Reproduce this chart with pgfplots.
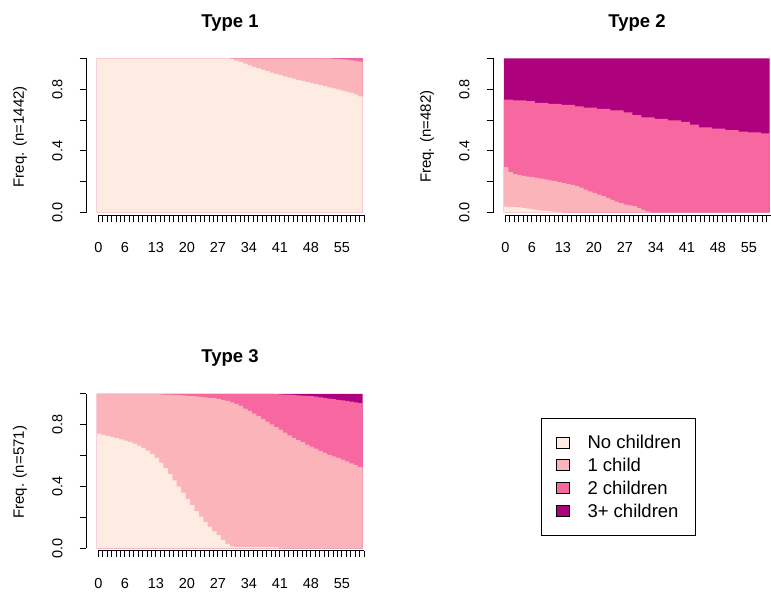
\documentclass[border=0pt]{standalone}
\usepackage{fontspec}
\setmainfont{Liberation Sans}
\usepackage{pgfplots}
\usepackage{pgfplotstable}
\pgfplotsset{compat=1.18}
\definecolor{s1}{HTML}{FEEBE2}
\definecolor{s2}{HTML}{FBB4B9}
\definecolor{s3}{HTML}{F768A1}
\definecolor{s4}{HTML}{AE017E}

% cumulative boundaries: c1=No, c2=No+1, c3=No+1+2, c4=all
\pgfplotstableread{
t c1 c2 c3 c4
0 1 1 1 1
1 1 1 1 1
2 1 1 1 1
3 1 1 1 1
4 1 1 1 1
5 1 1 1 1
6 1 1 1 1
7 1 1 1 1
8 1 1 1 1
9 1 1 1 1
10 1 1 1 1
11 1 1 1 1
12 1 1 1 1
13 1 1 1 1
14 1 1 1 1
15 1 1 1 1
16 1 1 1 1
17 1 1 1 1
18 1 1 1 1
19 1 1 1 1
20 1 1 1 1
21 1 1 1 1
22 1 1 1 1
23 1 1 1 1
24 1 1 1 1
25 1 1 1 1
26 1 1 1 1
27 1 1 1 1
28 1 1 1 1
29 1 1 1 1
30 0.995 1 1 1
31 0.985 1 1 1
32 0.977 1 1 1
33 0.965 1 1 1
34 0.955 1 1 1
35 0.945 1 1 1
36 0.935 1 1 1
37 0.926 1 1 1
38 0.917 1 1 1
39 0.907 1 1 1
40 0.899 1 1 1
41 0.891 1 1 1
42 0.883 1 1 1
43 0.875 1 1 1
44 0.868 1 1 1
45 0.861 1 1 1
46 0.854 1 1 1
47 0.847 1 1 1
48 0.840 1 1 1
49 0.833 1 1 1
50 0.826 1 1 1
51 0.819 1 1 1
52 0.812 1 1 1
53 0.805 0.997 1 1
54 0.798 0.995 1 1
55 0.791 0.993 1 1
56 0.784 0.990 1 1
57 0.776 0.987 1 1
58 0.766 0.983 1 1
59 0.754 0.978 1 1
60 0.754 0.978 1 1
}\tabA

\pgfplotstableread{
t c1 c2 c3 c4
0 0.040 0.295 0.733 1
1 0.038 0.262 0.733 1
2 0.036 0.250 0.728 1
3 0.034 0.243 0.728 1
4 0.030 0.238 0.728 1
5 0.026 0.234 0.722 1
6 0.022 0.230 0.722 1
7 0.018 0.225 0.712 1
8 0.014 0.220 0.712 1
9 0.011 0.215 0.712 1
10 0.008 0.210 0.705 1
11 0.005 0.204 0.705 1
12 0.003 0.198 0.705 1
13 0 0.192 0.698 1
14 0 0.186 0.698 1
15 0 0.180 0.698 1
16 0 0.173 0.688 1
17 0 0.163 0.688 1
18 0 0.150 0.680 1
19 0 0.138 0.680 1
20 0 0.127 0.680 1
21 0 0.117 0.672 1
22 0 0.107 0.672 1
23 0 0.095 0.672 1
24 0 0.083 0.662 1
25 0 0.072 0.662 1
26 0 0.062 0.662 1
27 0 0.053 0.650 1
28 0 0.047 0.650 1
29 0 0.042 0.632 1
30 0 0.030 0.632 1
31 0 0.018 0.618 1
32 0 0.008 0.618 1
33 0 0 0.618 1
34 0 0 0.608 1
35 0 0 0.608 1
36 0 0 0.608 1
37 0 0 0.598 1
38 0 0 0.598 1
39 0 0 0.598 1
40 0 0 0.588 1
41 0 0 0.588 1
42 0 0 0.570 1
43 0 0 0.570 1
44 0 0 0.553 1
45 0 0 0.553 1
46 0 0 0.553 1
47 0 0 0.545 1
48 0 0 0.545 1
49 0 0 0.545 1
50 0 0 0.535 1
51 0 0 0.535 1
52 0 0 0.535 1
53 0 0 0.525 1
54 0 0 0.525 1
55 0 0 0.520 1
56 0 0 0.520 1
57 0 0 0.520 1
58 0 0 0.513 1
59 0 0 0.513 1
60 0 0 0.513 1
}\tabB

\pgfplotstableread{
t c1 c2 c3 c4
0 0.742 1 1 1
1 0.733 1 1 1
2 0.726 1 1 1
3 0.720 1 1 1
4 0.714 1 1 1
5 0.705 1 1 1
6 0.698 1 1 1
7 0.690 1 1 1
8 0.678 1 1 1
9 0.665 1 1 1
10 0.650 1 1 1
11 0.632 1 1 1
12 0.610 1 1 1
13 0.585 1 1 1
14 0.555 0.997 1 1
15 0.520 0.996 1 1
16 0.480 0.995 1 1
17 0.440 0.994 1 1
18 0.400 0.992 1 1
19 0.360 0.990 1 1
20 0.320 0.988 1 1
21 0.280 0.986 1 1
22 0.240 0.984 1 1
23 0.205 0.981 1 1
24 0.170 0.978 1 1
25 0.140 0.975 1 1
26 0.110 0.972 1 1
27 0.085 0.968 1 1
28 0.055 0.962 1 1
29 0.028 0.955 1 1
30 0.012 0.945 1 1
31 0.008 0.935 1 1
32 0.008 0.922 1 1
33 0.008 0.905 1 1
34 0.008 0.890 1 1
35 0.008 0.873 1 1
36 0.008 0.856 1 1
37 0.008 0.838 1 1
38 0.008 0.820 1 1
39 0.008 0.803 1 1
40 0.008 0.785 0.998 1
41 0 0.768 0.997 1
42 0 0.750 0.996 1
43 0 0.732 0.995 1
44 0 0.715 0.993 1
45 0 0.700 0.991 1
46 0 0.687 0.989 1
47 0 0.672 0.987 1
48 0 0.658 0.985 1
49 0 0.645 0.982 1
50 0 0.630 0.978 1
51 0 0.618 0.974 1
52 0 0.605 0.970 1
53 0 0.595 0.966 1
54 0 0.585 0.962 1
55 0 0.575 0.958 1
56 0 0.563 0.955 1
57 0 0.550 0.950 1
58 0 0.538 0.945 1
59 0 0.526 0.940 1
60 0 0.526 0.940 1
}\tabC

\pgfplotsset{
  seqd/.style={
    scale only axis, width=278pt, height=156.7pt,
    xmin=-2.78, xmax=60, ymin=-0.015, ymax=1,
    axis x line=bottom, axis y line=left,
    axis line style={-, line width=0.9pt, black},
    x axis line style={shorten <=12.3pt},
    y axis line style={shorten <=2.3pt},
    tick align=outside, major tick length=6.5pt,
    tick style={black, line width=0.9pt},
    xtick={0,...,60},
    xticklabels={0,,,,,,6,,,,,,,13,,,,,,,20,,,,,,,27,,,,,,,34,,,,,,,41,,,,,,,48,,,,,,,55,,,,,},
    ytick={0,0.2,0.4,0.6,0.8,1},
    yticklabels={0.0,,0.4,,0.8,},
    ticklabel style={font=\fontsize{14.5}{16}\selectfont, text=black},
    xticklabel style={anchor=center, yshift=-26pt},
    yticklabel style={anchor=center, xshift=-22pt, rotate=90},
    title style={at={(axis description cs:0.518,1.198)}, anchor=base, yshift=-6pt,
                 font=\bfseries\fontsize{18.5}{22}\selectfont},
    ylabel style={at={(axis description cs:-0.2374,0.5)}, anchor=center, rotate=0,
                  font=\fontsize{15}{17}\selectfont},
    clip=true,
  },
  lay/.style={const plot, draw=none, fill=#1},
}

\begin{document}
\begin{tikzpicture}
\useasboundingbox (0,0) rectangle (771pt,-595pt);

\begin{axis}[seqd, at={(86pt,-215pt)}, anchor=south west,
  title={Type 1}, ylabel={Freq. (n=1442)}]
\addplot[lay=s4] table[x expr=\thisrow{t}-0.3, y=c4] {\tabA} \closedcycle;
\addplot[lay=s3] table[x expr=\thisrow{t}-0.3, y=c3] {\tabA} \closedcycle;
\addplot[lay=s2] table[x expr=\thisrow{t}-0.3, y=c2] {\tabA} \closedcycle;
\addplot[lay=s1] table[x expr=\thisrow{t}-0.3, y=c1] {\tabA} \closedcycle;
\end{axis}

\begin{axis}[seqd, at={(493pt,-215pt)}, anchor=south west,
  title={Type 2}, ylabel={Freq. (n=482)}]
\addplot[lay=s4] table[x expr=\thisrow{t}-0.3, y=c4] {\tabB} \closedcycle;
\addplot[lay=s3] table[x expr=\thisrow{t}-0.3, y=c3] {\tabB} \closedcycle;
\addplot[lay=s2] table[x expr=\thisrow{t}-0.3, y=c2] {\tabB} \closedcycle;
\addplot[lay=s1] table[x expr=\thisrow{t}-0.3, y=c1] {\tabB} \closedcycle;
\end{axis}

\begin{axis}[seqd, at={(86pt,-550.6pt)}, anchor=south west,
  title={Type 3}, ylabel={Freq. (n=571)}]
\addplot[lay=s4] table[x expr=\thisrow{t}-0.3, y=c4] {\tabC} \closedcycle;
\addplot[lay=s3] table[x expr=\thisrow{t}-0.3, y=c3] {\tabC} \closedcycle;
\addplot[lay=s2] table[x expr=\thisrow{t}-0.3, y=c2] {\tabC} \closedcycle;
\addplot[lay=s1] table[x expr=\thisrow{t}-0.3, y=c1] {\tabC} \closedcycle;
\end{axis}

\begin{axis}[at={(542pt,-535pt)}, anchor=south west, scale only axis,
  width=153pt, height=117pt, hide axis, xmin=0, xmax=1, ymin=0, ymax=1,
  legend cell align=left,
  legend style={at={(0.5,0.5)}, anchor=center, draw=black, line width=0.9pt,
    font=\fontsize{18.5}{20}\selectfont, inner xsep=14.2pt, inner ysep=17.7pt,
    row sep=9.6pt, column sep=18pt,
    nodes={inner sep=0pt, text height=13.2pt, text depth=0pt}},
  legend image code/.code={\draw[#1, draw=black, line width=0.6pt] (0pt,-5.5pt) rectangle (13pt,5.5pt);}]
\addlegendimage{fill=s1}\addlegendentry{No children}
\addlegendimage{fill=s2}\addlegendentry{1 child}
\addlegendimage{fill=s3}\addlegendentry{2 children}
\addlegendimage{fill=s4}\addlegendentry{3+ children}
\end{axis}
\end{tikzpicture}
\end{document}
